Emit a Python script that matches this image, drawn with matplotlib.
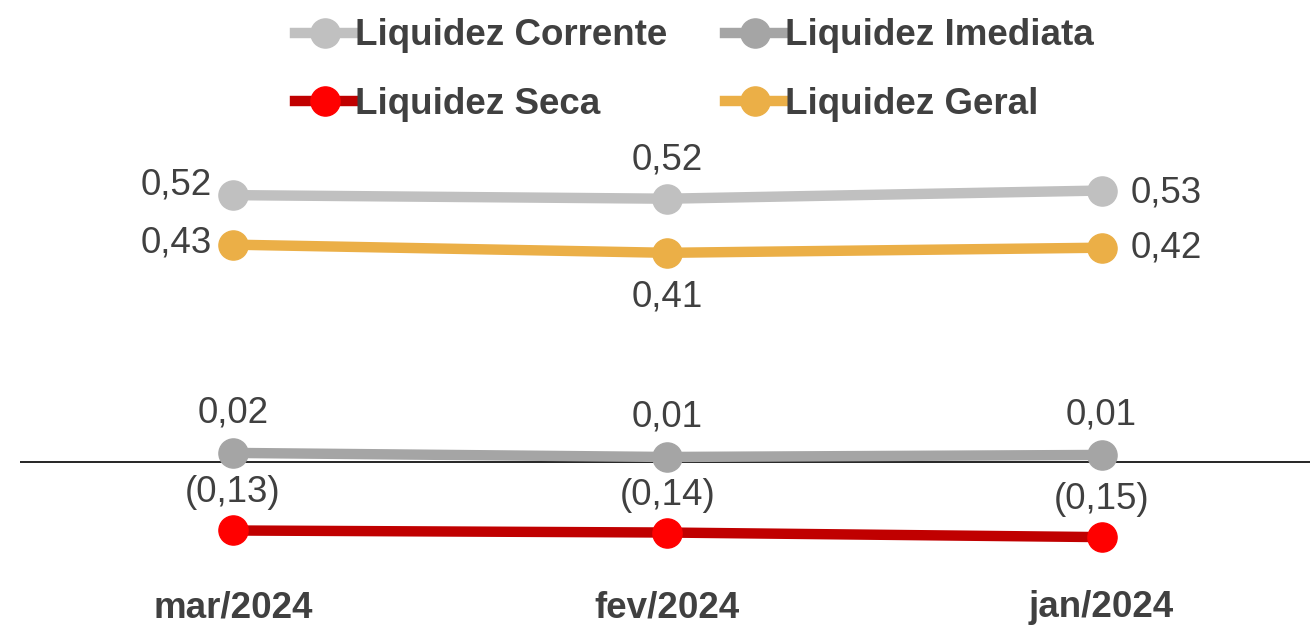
import matplotlib.pyplot as plt

plt.rcParams['font.family'] = ['Liberation Sans', 'DejaVu Sans']

# Dados
meses = ['mar/2024', 'fev/2024', 'jan/2024']
corrente = [0.523, 0.516, 0.532]
imediata = [0.018, 0.010, 0.014]
seca = [-0.134, -0.138, -0.147]
geral = [0.426, 0.410, 0.420]

texto = '#404040'
fs = 26.5


def rotulo(v):
    s = f'{abs(v):.2f}'.replace('.', ',')
    return f'({s})' if v < 0 else s


fig = plt.figure(figsize=(13.1, 6.25), dpi=100)
ax = fig.add_axes([20 / 1310, 45 / 625, 1290 / 1310, 440 / 625])
x = list(range(len(meses)))

l_corr, = ax.plot(x, corrente, color='#C0C0C0', lw=7.5, marker='o', ms=21,
                  label='Liquidez Corrente', zorder=3)
l_imed, = ax.plot(x, imediata, color='#A5A5A5', lw=7.5, marker='o', ms=21,
                  label='Liquidez Imediata', zorder=3)
l_seca, = ax.plot(x, seca, color='#C00000', lw=7.5, marker='o', ms=21,
                  mfc='#FF0000', mec='#FF0000', label='Liquidez Seca', zorder=3)
l_geral, = ax.plot(x, geral, color='#EBAF47', lw=7.5, marker='o', ms=21,
                   label='Liquidez Geral', zorder=3)

ax.axhline(0, color='black', lw=1.2, zorder=2)

# rótulos de dados
def anota(xi, v, dx, dy, ha):
    ax.annotate(rotulo(v), (xi, v), xytext=(dx, dy), textcoords='offset points',
                ha=ha, va='center', fontsize=fs, color=texto)

anota(0, corrente[0], -15, 7, 'right')
anota(1, corrente[1], 0, 28, 'center')
anota(2, corrente[2], 21, -2, 'left')
anota(0, geral[0], -15, 1, 'right')
anota(1, geral[1], 0, -32, 'center')
anota(2, geral[2], 21, 0, 'left')
for i in x:
    anota(i, imediata[i], 0, 29, 'center')
    anota(i, seca[i], 0, 27, 'center')

ax.set_xlim(-0.49, 2.48)
ax.set_ylim(-0.231, 0.631)
ax.set_xticks(x)
ax.set_xticklabels(meses, fontsize=fs, fontweight='bold', color=texto)
ax.tick_params(axis='x', length=0, pad=7.5)
ax.set_yticks([])
for s in ax.spines.values():
    s.set_visible(False)

leg = fig.legend(handles=[l_corr, l_seca, l_imed, l_geral], ncol=2,
                 loc='center', bbox_to_anchor=(0.530, 0.888), frameon=False,
                 prop={'size': fs, 'weight': 'bold'}, handlelength=1.63,
                 handletextpad=0.0, columnspacing=1.55, labelspacing=0.9)
for t in leg.get_texts():
    t.set_color(texto)

fig.savefig('out.png', dpi=100)
